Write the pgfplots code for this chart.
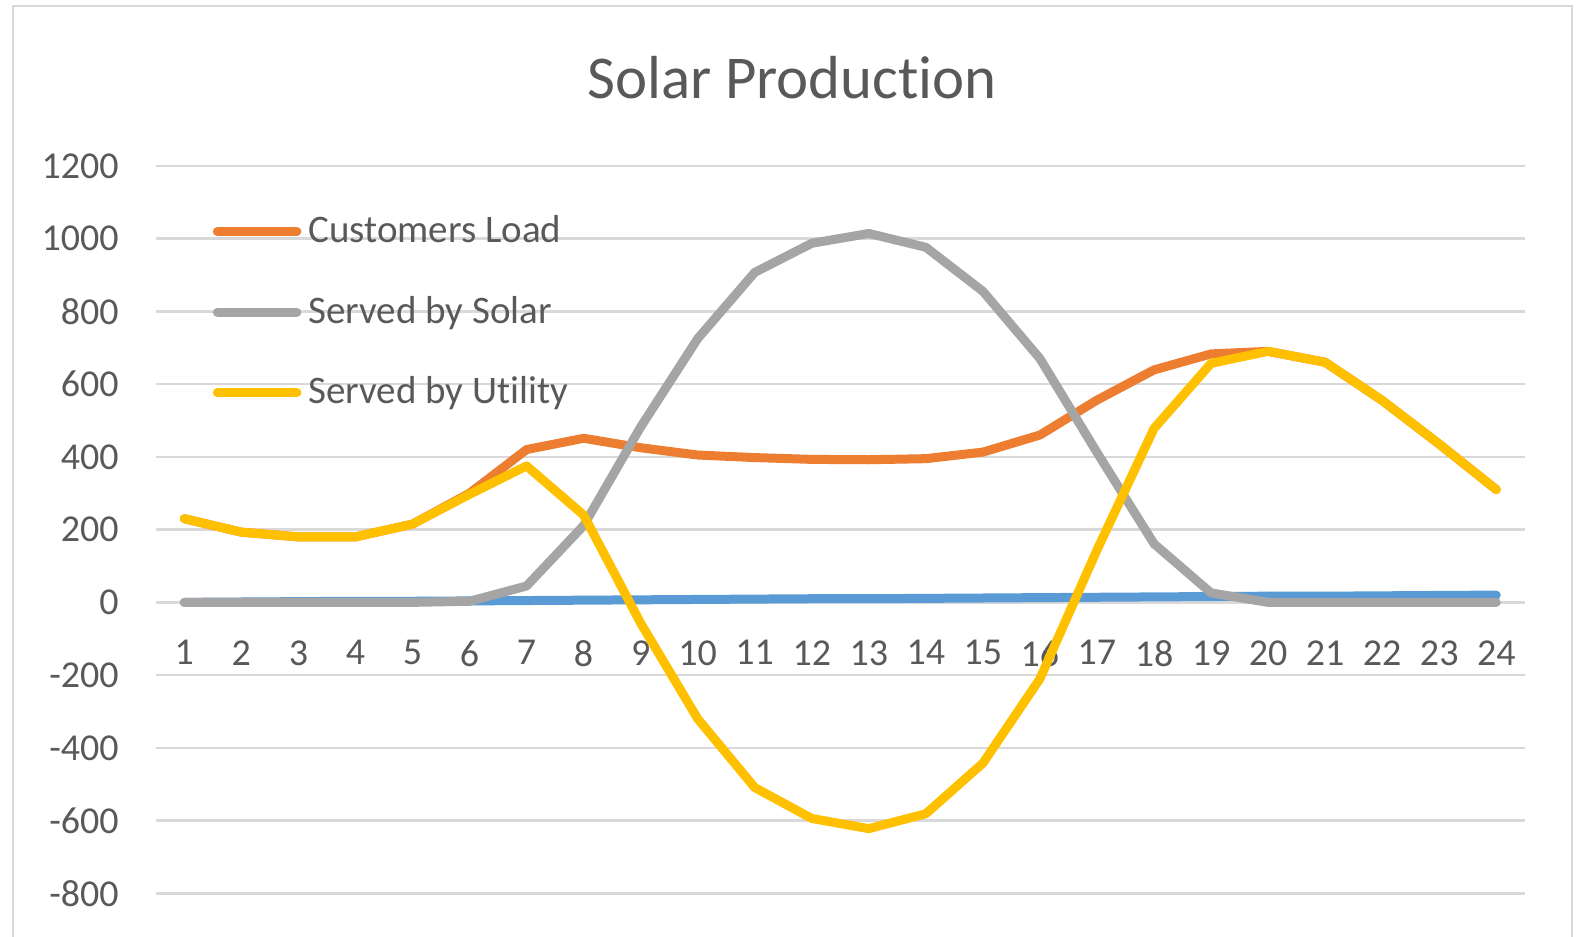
\documentclass[border=0pt]{standalone}
\usepackage{pgfplots}
\pgfplotsset{compat=1.18}
\usepackage{fontspec}
\setmainfont{Carlito}[Ligatures={NoCommon}]
\definecolor{txt}{HTML}{595959}
\definecolor{gridc}{HTML}{D9D9D9}
\definecolor{cblue}{HTML}{5B9BD5}
\definecolor{corange}{HTML}{ED7D31}
\definecolor{cgray}{HTML}{A5A5A5}
\definecolor{cyellow}{HTML}{FFC000}
\begin{document}
\begin{tikzpicture}
\path[use as bounding box] (0pt,0pt) rectangle (788pt,-468.5pt);
\draw[gridc, line width=1pt] (6.5pt,-480pt) -- (6.5pt,-3pt) -- (786pt,-3pt) -- (786pt,-480pt);
\node[font=\fontsize{30.4}{36}\selectfont, text=txt] at (396pt,-39pt) {Solar Production};
\begin{axis}[at={(77.9pt,-446.7pt)}, anchor=south west, scale only axis,
  width=684.5pt, height=363.8pt,
  xmin=0.5, xmax=24.5, ymin=-800, ymax=1200,
  axis x line*=middle, axis y line*=left,
  axis line style={draw=none},
  xtick={1,...,24}, ytick={-800,-600,...,1200},
  major tick length=0pt,
  ymajorgrids, grid style={gridc, line width=1.2pt},
  tick label style={font=\fontsize{19}{23}\selectfont, text=txt},
  xticklabel style={yshift=-15.5pt},
  yticklabel style={xshift=-15pt},
  /pgf/number format/assume math mode=true,
  /pgf/number format/1000 sep={},
  legend cell align=left,
  legend style={at={(0.0414,0.9416)}, anchor=north west, draw=none, fill=none,
    inner sep=0pt, font=\fontsize{19.5}{23}\selectfont, text=txt,
    row sep=16.3pt, column sep=0.5pt,
    nodes={text height=14pt, text depth=4pt, inner sep=3pt}},
  legend image code/.code={\draw[#1] (2.25pt,0.6pt) -- (42pt,0.6pt);},
  every axis plot/.append style={line width=4.5pt, line cap=round, line join=round, mark=none},
]
\addplot[cblue, forget plot] coordinates {(1,0)(2,1)(3,2)(4,3)(5,3)(6,4)(7,5)(8,6)(9,7)(10,8)(11,9)(12,10)(13,10)(14,11)(15,12)(16,13)(17,14)(18,15)(19,16)(20,17)(21,17)(22,18)(23,19)(24,20)};
\addplot[corange] coordinates {(1,230)(2,193)(3,180)(4,180)(5,215)(6,300)(7,420)(8,451)(9,425)(10,405)(11,398)(12,393)(13,392)(14,395)(15,413)(16,460)(17,556)(18,639)(19,683)(20,690)(21,660)(22,555)(23,435)(24,310)};
\addlegendentry{Customers Load}
\addplot[cgray] coordinates {(1,0)(2,0)(3,0)(4,0)(5,0)(6,3)(7,45)(8,211)(9,482)(10,725)(11,907)(12,987)(13,1014)(14,976)(15,855)(16,670)(17,412)(18,161)(19,26)(20,0)(21,0)(22,0)(23,0)(24,0)};
\addlegendentry{Served by Solar}
\addplot[cyellow] coordinates {(1,230)(2,193)(3,180)(4,180)(5,215)(6,297)(7,375)(8,240)(9,-57)(10,-320)(11,-509)(12,-594)(13,-622)(14,-581)(15,-442)(16,-210)(17,144)(18,478)(19,657)(20,690)(21,660)(22,555)(23,435)(24,310)};
\addlegendentry{Served by Utility}
\end{axis}
\end{tikzpicture}
\end{document}
